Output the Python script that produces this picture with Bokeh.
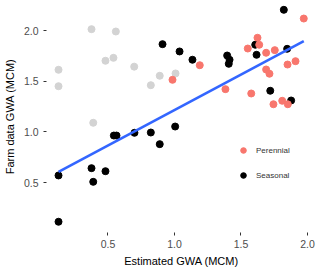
import numpy as np
from bokeh.plotting import figure
from bokeh.models import Range1d, FixedTicker, Legend, LegendItem
from bokeh.embed import file_html
from bokeh.resources import INLINE

# --- data ---
gray_x = [0.376, 0.559, 0.481, 0.541, 0.697, 0.128, 0.128, 0.389, 0.822, 0.889, 1.008]
gray_y = [2.014, 1.991, 1.702, 1.731, 1.644, 1.613, 1.451, 1.090, 1.461, 1.554, 1.577]

seasonal_x = [0.910, 1.038, 1.135, 1.396, 1.414, 1.408, 1.822, 1.607, 1.617, 1.847,
              1.720, 1.877, 1.005, 0.128, 0.128, 0.376, 0.389, 0.481, 0.544, 0.564,
              0.699, 0.822, 0.889]
seasonal_y = [1.866, 1.794, 1.712, 1.754, 1.712, 1.672, 2.205, 1.860, 1.761, 1.820,
              1.406, 1.310, 1.053, 0.570, 0.113, 0.642, 0.507, 0.612, 0.964, 0.964,
              0.991, 0.994, 0.879]

perennial_x = [1.972, 1.624, 1.551, 1.637, 1.689, 1.754, 1.190, 0.985, 1.383, 1.689,
               1.714, 1.850, 1.910, 1.577, 1.744, 1.810, 1.852]
perennial_y = [2.119, 1.929, 1.823, 1.860, 1.781, 1.807, 1.658, 1.514, 1.422, 1.616,
               1.574, 1.665, 1.698, 1.379, 1.273, 1.307, 1.273]

x_ticks = [0.5, 1.0, 1.5, 2.0]
x_tick_labels = ["0.5", "1.0", "1.5", "2.0"]
y_ticks = [0.5, 1.0, 1.5, 2.0]
y_tick_labels = ["0.5", "1.0", "1.5", "2.0"]

FONT = "Liberation Sans"

p = figure(width=320, height=272, output_backend="svg", toolbar_location=None,
           x_range=Range1d(0.0376, 2.0677), y_range=Range1d(0.0069, 2.297),
           min_border_left=46, min_border_right=4, min_border_top=0,
           min_border_bottom=40)

p.scatter(gray_x, gray_y, size=7, color="#D3D3D3")
r_sea = p.scatter(seasonal_x, seasonal_y, size=7, color="black")
r_per = p.scatter(perennial_x, perennial_y, size=7, color="#F8766D")

# linear fit over seasonal + perennial points
fx = np.array(seasonal_x + perennial_x)
fy = np.array(seasonal_y + perennial_y)
slope, intercept = np.polyfit(fx, fy, 1)
lx = np.array([fx.min(), fx.max()])
p.line(lx, slope * lx + intercept, line_color="#3366FF", line_width=2.6)

legend = Legend(items=[LegendItem(label="Perennial", renderers=[r_per]),
                       LegendItem(label="Seasonal", renderers=[r_sea])],
                location=(190, 47), background_fill_alpha=0, border_line_color=None,
                padding=0, margin=0, glyph_width=14, glyph_height=20, label_height=20,
                spacing=5, label_standoff=6, label_text_font_size="8px",
                label_text_font=FONT, label_text_color="#333333")
p.add_layout(legend)

for ax, ticks, labels, title in [(p.xaxis, x_ticks, x_tick_labels, "Estimated GWA (MCM)"),
                                 (p.yaxis, y_ticks, y_tick_labels, "Farm data GWA (MCM)")]:
    ax.ticker = FixedTicker(ticks=ticks)
    ax.major_label_overrides = dict(zip(ticks, labels))
    ax.axis_label = title
    ax.axis_label_text_font = FONT
    ax.axis_label_text_font_size = "11px"
    ax.axis_label_text_font_style = "normal"
    ax.axis_label_text_color = "black"
    ax.axis_label_standoff = 5
    ax.major_label_text_font = FONT
    ax.major_label_text_font_size = "10.5px"
    ax.major_label_text_color = "#4D4D4D"
    ax.major_label_standoff = 5
    ax.axis_line_color = None
    ax.major_tick_line_color = "#333333"
    ax.major_tick_in = 0
    ax.major_tick_out = 3
    ax.minor_tick_in = 0
    ax.minor_tick_out = 0

p.xaxis.major_label_standoff = 4
p.xaxis.axis_label_standoff = 4

p.xgrid.visible = False
p.ygrid.visible = False
p.outline_line_color = None

open("out.html", "w").write(file_html(p, INLINE))
